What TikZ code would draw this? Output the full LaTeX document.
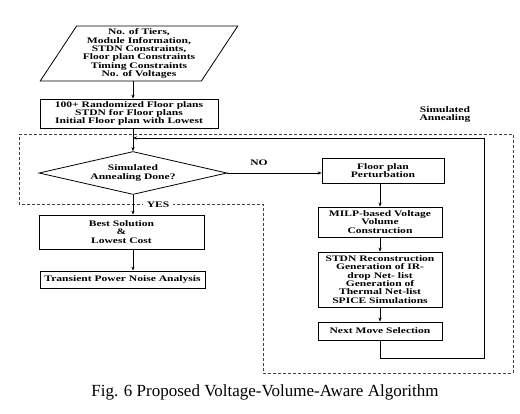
\documentclass[tikz,border=0pt]{standalone}
\usepackage{fontspec}
\usetikzlibrary{shapes.geometric,arrows.meta}
\newfontfamily\diagfont[FakeStretch=1.36]{Liberation Serif}
\newfontfamily\capfont{Liberation Serif}
\begin{document}
\begin{tikzpicture}[x=1pt,y=-1pt,
  every node/.style={font=\diagfont\bfseries\fontsize{8.5}{8.3}\selectfont, align=center, inner sep=1pt},
  box/.style={draw, line width=0.8pt, rectangle},
  arr/.style={line width=0.8pt, -{Stealth[length=4pt,width=3.2pt]}},
  ln/.style={line width=0.8pt},
  dsh/.style={line width=0.6pt, black!75, dash pattern=on 3pt off 2pt}]
\useasboundingbox (0,0) rectangle (520,414);
% dashed region
\draw[dsh] (19,134) -- (513,134) -- (513,373) -- (263,373) -- (263,204) -- (19,204) -- cycle;
% nodes
\node[draw, line width=0.8pt, trapezium, trapezium stretches=true, trapezium left angle=57, trapezium right angle=123, minimum width=198pt, minimum height=55pt] (in) at (139,53.5)
  {No. of Tiers,\\Module Information,\\STDN Constraints,\\Floor plan Constraints\\Timing Constraints\\No. of Voltages};
\node[box, minimum width=178pt, minimum height=29pt] (b1) at (129,113.5)
  {100+ Randomized Floor plans\\STDN for Floor plans\\Initial Floor plan with Lowest};
\node[draw, line width=0.8pt, diamond, aspect=4.37, minimum width=188pt, minimum height=43pt, inner sep=0pt] (dec) at (133,173)
  {Simulated\\Annealing Done?};
\node[box, minimum width=165pt, minimum height=34pt] (best) at (121.5,232)
  {Best Solution\\\&\\Lowest Cost};
\node[box, minimum width=165pt, minimum height=17pt] (tr) at (122.5,279.5)
  {Transient Power Noise Analysis};
\node[box, minimum width=122pt, minimum height=25pt] (fp) at (383,170.5)
  {Floor plan\\Perturbation};
\node[box, minimum width=124pt, minimum height=30pt] (milp) at (380,222)
  {MILP-based Voltage\\Volume\\Construction};
\node[box, minimum width=124pt, minimum height=55pt] (stdn) at (380,279.5)
  {STDN Reconstruction\\Generation of IR-\\drop Net- list\\Generation of\\Thermal Net-list\\SPICE Simulations};
\node[box, minimum width=124pt, minimum height=18pt] (nm) at (380,331)
  {Next Move Selection};
% labels
\node (sa) at (445,114.5) {Simulated\\Annealing};
\node (no) at (259,163) {NO};
\node[fill=white, inner xsep=4pt, inner ysep=0pt] (yes) at (158,205) {YES};
\node[font=\capfont\fontsize{17}{20}\selectfont] (cap) at (265,392) {Fig. 6 Proposed Voltage-Volume-Aware Algorithm};
% coordinates
\coordinate (ax) at (133,0);
\coordinate (fbin) at (133,138);
\coordinate (fbc) at (484,358);
% connectors
\draw[arr] (in.south -| ax) -- (b1.north -| ax);
\draw[arr] (b1.south -| ax) -- (dec.north);
\draw[arr] (nm.south -| stdn.south) |- (fbc) |- (fbin);
\draw[arr] (dec.east) -- (dec.east -| fp.west);
\draw[arr] (dec.south) -- (best.north -| dec.south);
\draw[arr] (best.south -| ax) -- (tr.north -| ax);
\draw[arr] (fp.south -| milp.north) -- (milp.north);
\draw[arr] (milp.south) -- (stdn.north);
\draw[arr] (stdn.south) -- (nm.north);
\end{tikzpicture}
\end{document}
